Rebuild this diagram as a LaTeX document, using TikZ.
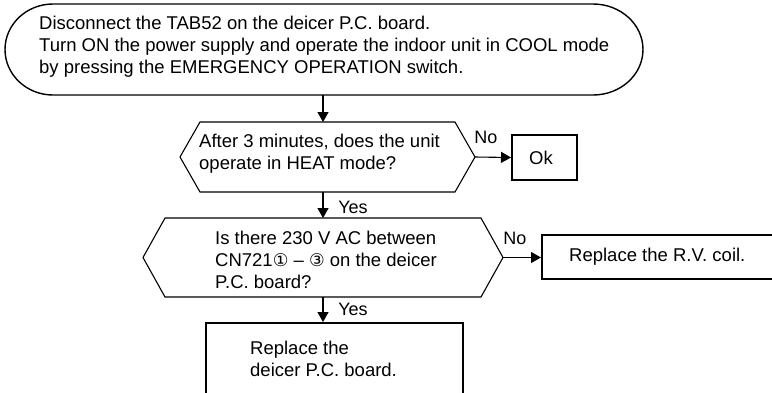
\documentclass[tikz,border=0pt]{standalone}
\usepackage{fontspec}
\setmainfont{Liberation Sans}
\newfontfamily\symf{DejaVu Sans}
\usetikzlibrary{arrows.meta,calc}
\begin{document}
\begin{tikzpicture}[x=1pt,y=1pt,
  txt/.style={font=\fontsize{18.5}{22}\selectfont, align=left, inner sep=0pt, anchor=west},
  lbl/.style={font=\fontsize{18}{20}\selectfont, inner sep=0pt},
  shp/.style={draw=none, inner sep=0pt, outer sep=0pt},
  boxline/.style={line width=2pt},
  hexline/.style={line width=1.1pt, line join=miter},
  arr/.style={line width=1.1pt, -{Triangle[length=10pt,width=11pt]}}]
\clip (0,0) rectangle (772,-392);
\fill[white] (0,0) rectangle (772,-392);
% terminator
\node[shp, minimum width=638pt, minimum height=91pt] (t1) at (323,-49.5) {};
\draw[line width=1.4pt] (53,-4) -- (593,-4) arc[start angle=90, end angle=-90, x radius=50, y radius=45.5]
  -- (53,-95) arc[start angle=270, end angle=90, x radius=48, y radius=45.5] -- cycle;
\node[txt] (t1t) at (39,-47) {Disconnect the TAB52 on the deicer P.C. board.\\Turn ON the power supply and operate the indoor unit in COOL mode\\by pressing the EMERGENCY OPERATION switch.};
% decision 1
\node[shp, minimum width=295pt, minimum height=70pt] (d1) at (327.5,-157) {};
\draw[hexline] (d1.west) -- ($(d1.north west)+(20,0)$) -- ($(d1.north east)+(-20,0)$) -- (d1.east)
  -- ($(d1.south east)+(-20,0)$) -- ($(d1.south west)+(20,0)$) -- cycle;
\node[txt] (d1t) at (199,-154) {After 3 minutes, does the unit\\operate in HEAT mode?};
% Ok box
\node[draw, boxline, minimum width=65pt, minimum height=45pt, inner sep=0pt] (ok) at (544.5,-157.5) {};
\node[font=\fontsize{18.5}{22}\selectfont, inner sep=0pt] (okt) at (541,-157.5) {Ok};
% decision 2
\node[shp, minimum width=360pt, minimum height=79pt] (d2) at (323,-257.5) {};
\draw[hexline] (d2.west) -- ($(d2.north west)+(22,0)$) -- ($(d2.north east)+(-22,0)$) -- (d2.east)
  -- ($(d2.south east)+(-22,0)$) -- ($(d2.south west)+(22,0)$) -- cycle;
\node[txt] (d2t) at (215,-260) {Is there 230 V AC between\\CN721{\symf\fontsize{17.5}{22}\selectfont ①} – {\symf\fontsize{17.5}{22}\selectfont ③} on the deicer\\P.C. board?};
% R.V. coil box
\node[draw, boxline, minimum width=240pt, minimum height=44pt, inner sep=0pt] (rv) at (662,-257) {};
\node[txt] (rvt) at (569,-257) {Replace the R.V. coil.};
% bottom box
\node[draw, boxline, minimum width=257pt, minimum height=90pt, inner sep=0pt] (pc) at (334.5,-368) {};
\node[txt] (pct) at (250,-358.5) {Replace the\\deicer P.C. board.};
% connectors
\draw[arr] (t1.south) -- (t1.south |- d1.north);
\draw[arr] (d1.east) -- (ok.west);
\draw[arr] (t1.south |- d1.south) -- (d2.north);
\draw[arr] (d2.east) -- (d2.east -| rv.west);
\draw[arr] (d2.south) -- (d2.south |- pc.north);
% labels
\node[lbl] (no1) at (486,-137) {No};
\node[lbl] (yes1) at (353,-207) {Yes};
\node[lbl] (no2) at (515,-238) {No};
\node[lbl] (yes2) at (353,-309) {Yes};
\end{tikzpicture}
\end{document}
